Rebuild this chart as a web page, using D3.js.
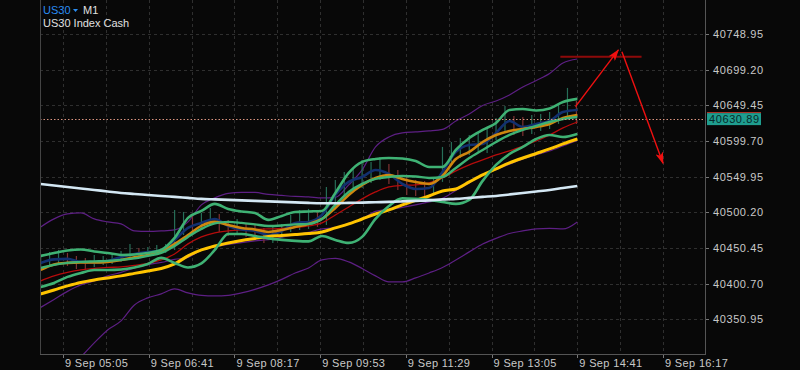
<!DOCTYPE html>
<html>
<head>
<meta charset="utf-8">
<script src="https://cdn.jsdelivr.net/npm/d3@7"></script>
<style>
  html, body { margin: 0; padding: 0; background: #080808; }
  svg { display: block; }
  text { font-family: "Liberation Sans", Arial, sans-serif; }
</style>
</head>
<body>
<svg id="chart" width="800" height="370"></svg>
<script>
// --- data ---
var symbol = "US30", period = "M1", description = "US30 Index Cash";

var priceTicks = [40350.95, 40400.70, 40450.45, 40500.20, 40549.95, 40599.70, 40649.45, 40699.20, 40748.95];
var timeLabels = ["05:05", "06:41", "08:17", "09:53", "11:29", "13:05", "14:41", "16:17"];
var gridTimes = ["05:05", "05:53", "06:41", "07:29", "08:17", "09:05", "09:53", "10:41", "11:29",
  "12:17", "13:05", "13:53", "14:41", "15:29", "16:17"];
var lastPrice = 40630.89;

// indicator samples, every 15 minutes
var times = ["04:40", "04:55", "05:10", "05:25", "05:40", "05:55", "06:10", "06:25", "06:40", "06:55",
  "07:10", "07:25", "07:40", "07:55", "08:10", "08:25", "08:40", "08:55", "09:10", "09:25",
  "09:40", "09:55", "10:10", "10:25", "10:40", "10:55", "11:10", "11:25", "11:40", "11:55",
  "12:10", "12:25", "12:40", "12:55", "13:10", "13:25", "13:40", "13:55", "14:10", "14:25", "14:41"];

var maSlow = [40539.8, 40537.7, 40535.6, 40533.5, 40531.4, 40529.3, 40527.2, 40525.8, 40524.4, 40523.0,
  40521.7, 40520.3, 40518.9, 40518.2, 40517.5, 40516.8, 40516.1, 40515.4, 40514.7, 40514.0,
  40513.3, 40512.9, 40512.9, 40513.3, 40513.7, 40514.3, 40514.7, 40515.4, 40516.1, 40516.8,
  40518.2, 40518.9, 40520.3, 40521.7, 40523.0, 40525.1, 40527.2, 40529.3, 40531.4, 40534.2, 40537.0];

var maLong = [40386.4, 40391.9, 40397.5, 40402.4, 40405.9, 40408.7, 40411.5, 40415.0, 40418.4, 40421.9,
  40428.2, 40439.4, 40447.7, 40453.3, 40457.5, 40461.0, 40463.8, 40466.5, 40467.9, 40469.3,
  40470.7, 40472.8, 40478.4, 40484.0, 40490.9, 40497.9, 40503.5, 40510.5, 40516.8, 40523.0,
  40530.0, 40532.8, 40542.6, 40552.3, 40560.7, 40569.1, 40576.0, 40582.3, 40588.6, 40595.6, 40602.5];

var maRed = [40404.5, 40411.5, 40416.3, 40419.8, 40421.9, 40423.3, 40424.0, 40426.1, 40428.9, 40433.8,
  40442.1, 40456.1, 40465.9, 40471.4, 40474.2, 40475.6, 40476.3, 40477.0, 40477.7, 40479.1,
  40481.2, 40485.4, 40496.5, 40507.7, 40518.9, 40528.6, 40535.6, 40537.7, 40538.4, 40541.2,
  40548.1, 40557.9, 40566.3, 40573.2, 40580.2, 40585.8, 40592.7, 40599.7, 40608.1, 40617.9, 40626.2];

var maOrange = [40419.8, 40427.5, 40429.6, 40430.3, 40430.3, 40431.0, 40433.8, 40437.3, 40440.7, 40444.9,
  40456.1, 40468.6, 40481.2, 40486.8, 40482.6, 40478.4, 40476.3, 40472.8, 40475.6, 40479.8,
  40484.0, 40490.9, 40506.3, 40524.4, 40538.4, 40548.1, 40552.3, 40546.8, 40542.6, 40539.8,
  40550.9, 40574.6, 40584.4, 40598.3, 40608.1, 40613.7, 40616.5, 40619.3, 40623.5, 40631.8, 40636.0];

var maFast = [40429.6, 40434.5, 40435.2, 40431.0, 40430.3, 40432.4, 40438.0, 40442.1, 40444.9, 40447.0,
  40461.7, 40478.4, 40485.4, 40490.9, 40481.2, 40476.3, 40474.2, 40468.6, 40474.2, 40485.4,
  40486.8, 40496.5, 40524.4, 40542.6, 40549.5, 40559.3, 40553.7, 40539.8, 40532.8, 40534.2,
  40556.5, 40584.4, 40594.2, 40595.6, 40610.9, 40627.6, 40619.3, 40623.5, 40627.6, 40640.2, 40643.0];

var bandUpper = [40439.4, 40443.5, 40447.0, 40448.4, 40445.6, 40443.5, 40440.7, 40441.4, 40443.5, 40447.7,
  40464.5, 40492.4, 40502.1, 40511.9, 40504.9, 40501.4, 40499.3, 40489.6, 40495.2, 40500.7,
  40501.4, 40502.1, 40527.2, 40555.1, 40570.5, 40574.6, 40576.0, 40575.3, 40571.8, 40563.5,
  40563.5, 40587.2, 40603.9, 40615.1, 40624.9, 40643.0, 40644.4, 40642.3, 40645.1, 40654.1, 40658.4];

var bandMid = [40422.6, 40426.8, 40429.6, 40431.0, 40431.7, 40432.4, 40433.8, 40435.9, 40439.4, 40443.5,
  40453.3, 40465.9, 40477.0, 40484.7, 40486.8, 40485.4, 40483.3, 40481.2, 40481.9, 40483.3,
  40484.0, 40490.9, 40510.5, 40528.6, 40539.8, 40546.8, 40549.5, 40550.9, 40550.2, 40548.1,
  40549.5, 40562.1, 40576.0, 40587.2, 40598.3, 40608.1, 40615.1, 40620.7, 40626.2, 40630.4, 40633.2];

var bandLower = [40396.1, 40401.7, 40410.1, 40415.6, 40419.8, 40419.8, 40420.5, 40423.3, 40428.2, 40436.6,
  40429.6, 40423.3, 40428.9, 40447.7, 40470.0, 40470.0, 40467.2, 40463.8, 40461.7, 40460.3,
  40459.6, 40467.2, 40461.7, 40457.5, 40465.9, 40491.0, 40509.1, 40519.6, 40518.9, 40517.5,
  40514.7, 40511.9, 40517.5, 40544.0, 40566.3, 40581.6, 40591.4, 40602.5, 40608.1, 40605.3, 40609.5];

var wideUpper = [40479.8, 40491.0, 40497.9, 40499.3, 40491.0, 40486.8, 40484.0, 40474.2, 40473.5, 40474.2,
  40475.6, 40486.8, 40510.5, 40520.3, 40526.5, 40527.9, 40527.9, 40525.1, 40523.7, 40522.4,
  40521.7, 40520.3, 40521.0, 40538.4, 40559.3, 40591.4, 40605.3, 40610.9, 40612.3, 40613.7,
  40615.8, 40627.6, 40637.4, 40649.3, 40655.5, 40663.9, 40675.1, 40684.1, 40693.9, 40708.5, 40714.1];

var wideMid = [40367.6, 40378.7, 40389.9, 40398.9, 40404.5, 40411.5, 40416.4, 40422.6, 40427.2, 40430.3,
  40434.5, 40437.3, 40447.4, 40452.0, 40455.4, 40457.9, 40460.3, 40462.0, 40465.2, 40469.0,
  40472.2, 40477.1, 40478.5, 40484.7, 40490.6, 40501.5, 40504.2, 40507.0, 40510.5, 40514.7,
  40519.6, 40530.7, 40541.2, 40552.7, 40559.7, 40567.3, 40574.7, 40580.6, 40585.8, 40592.8, 40600.5];

var wideLower = [40255.3, 40266.4, 40281.8, 40298.5, 40318.0, 40336.1, 40348.7, 40371.0, 40380.8, 40386.4,
  40393.4, 40387.8, 40384.3, 40383.6, 40384.3, 40387.8, 40392.7, 40398.9, 40406.6, 40415.6,
  40422.6, 40433.8, 40435.9, 40431.0, 40421.9, 40411.5, 40403.1, 40403.1, 40408.7, 40415.6,
  40423.3, 40433.8, 40445.0, 40456.1, 40463.8, 40470.7, 40474.2, 40477.0, 40477.7, 40477.0, 40486.8];

// price bars, every 10 minutes (high / low)
var barTimes = ["04:40", "04:50", "05:00", "05:10", "05:20", "05:30", "05:40", "05:50", "06:00", "06:10",
  "06:20", "06:30", "06:40", "06:50", "07:00", "07:10", "07:20", "07:30", "07:40", "07:50",
  "08:00", "08:10", "08:20", "08:30", "08:40", "08:50", "09:00", "09:10", "09:20", "09:30",
  "09:40", "09:50", "10:00", "10:10", "10:20", "10:30", "10:40", "10:50", "11:00", "11:10",
  "11:20", "11:30", "11:40", "11:50", "12:00", "12:10", "12:20", "12:30", "12:40", "12:50",
  "13:00", "13:10", "13:20", "13:30", "13:40", "13:50", "14:00", "14:10", "14:20", "14:30", "14:40"];

var barHigh = [40440.7, 40444.9, 40447.7, 40443.5, 40439.4, 40436.6, 40440.7, 40439.4, 40442.1, 40446.3,
  40456.1, 40450.5, 40451.9, 40454.7, 40456.1, 40503.5, 40500.7, 40496.5, 40499.3, 40506.3,
  40497.9, 40489.6, 40491.0, 40484.0, 40482.6, 40478.4, 40479.8, 40484.0, 40496.5, 40503.5,
  40504.9, 40500.7, 40535.6, 40545.4, 40556.5, 40562.1, 40573.2, 40570.5, 40577.4, 40567.7,
  40559.3, 40550.9, 40545.4, 40544.0, 40549.5, 40591.4, 40598.3, 40603.9, 40608.1, 40612.3,
  40617.9, 40631.8, 40648.6, 40634.6, 40633.2, 40636.0, 40637.4, 40640.2, 40651.4, 40673.7, 40655.5];

var barLow = [40422.6, 40426.8, 40428.2, 40425.4, 40421.2, 40419.8, 40424.0, 40426.8, 40428.2, 40431.0,
  40435.2, 40436.6, 40438.0, 40440.7, 40443.5, 40447.7, 40468.6, 40471.4, 40478.4, 40481.2,
  40472.8, 40467.2, 40468.6, 40465.9, 40461.7, 40457.5, 40457.5, 40464.5, 40472.8, 40475.6,
  40477.0, 40479.8, 40482.6, 40510.5, 40524.4, 40528.6, 40534.2, 40541.2, 40545.4, 40539.8,
  40531.4, 40524.4, 40523.0, 40523.0, 40525.8, 40542.6, 40566.3, 40576.0, 40580.2, 40584.4,
  40583.0, 40601.1, 40612.3, 40608.1, 40606.7, 40609.5, 40613.7, 40616.5, 40623.5, 40631.8, 40623.5];

// drawn objects
var levelLine = {from: "14:22", to: "15:53", price: 40717.3};
var arrows = [
  {t1: "14:39", p1: 40647.6, t2: "15:27", p2: 40726.7},
  {t1: "15:31", p1: 40724.3, t2: "16:17", p2: 40568.6}
];

// --- layout ---
var left = 40, right = 705, bottom = 354;

function tm(s) {
  var a = s.split(":");
  return new Date(2024, 8, 9, +a[0], +a[1], a[2] ? +a[2] : 0);
}

var x = d3.scaleTime().domain([tm("04:39:14"), tm("17:04:02")]).range([left, right]);
var y = d3.scaleLinear().domain([40302.54, 40796.38]).range([bottom, 0]);

var svg = d3.select("#chart");

svg.append("rect").attr("width", 800).attr("height", 370).attr("fill", "#080808");

svg.append("defs").append("clipPath").attr("id", "plot")
  .append("rect").attr("x", left).attr("y", 0).attr("width", right - left).attr("height", bottom);

// grid
var grid = svg.append("g").attr("stroke", "#2f2f2f").attr("stroke-dasharray", "3,3").attr("stroke-width", 1);
grid.selectAll("line.h").data(priceTicks).enter().append("line")
  .attr("x1", left).attr("x2", right)
  .attr("y1", function(d) { return Math.round(y(d)) + 0.5; })
  .attr("y2", function(d) { return Math.round(y(d)) + 0.5; });
grid.selectAll("line.v").data(gridTimes).enter().append("line")
  .attr("y1", 0).attr("y2", bottom)
  .attr("x1", function(d) { return Math.round(x(tm(d))) + 0.5; })
  .attr("x2", function(d) { return Math.round(x(tm(d))) + 0.5; });

var plot = svg.append("g").attr("clip-path", "url(#plot)");

function series(values, color, width) {
  var line = d3.line()
    .x(function(d, i) { return x(tm(times[i])); })
    .y(function(d) { return y(d); })
    .curve(d3.curveMonotoneX);
  plot.append("path").datum(values)
    .attr("fill", "none")
    .attr("stroke", color)
    .attr("stroke-width", width)
    .attr("stroke-linejoin", "round")
    .attr("d", line);
}

// wide (purple) envelope
series(wideUpper, "#5d1f84", 1.2);
series(wideMid, "#5d1f84", 1.2);
series(wideLower, "#5d1f84", 1.2);

// price bars
plot.selectAll("line.bar").data(barTimes).enter().append("line")
  .attr("x1", function(d) { return x(tm(d)); })
  .attr("x2", function(d) { return x(tm(d)); })
  .attr("y1", function(d, i) { return y(barHigh[i]); })
  .attr("y2", function(d, i) { return y(barLow[i]); })
  .attr("stroke-width", 1.2)
  .attr("stroke", function(d, i) {
    var m = barHigh[i] + barLow[i], pm = i ? barHigh[i - 1] + barLow[i - 1] : m;
    return m >= pm ? "#276e58" : "#7e3232";
  });

series(maRed, "#b50c0c", 1.3);
series(maFast, "#12306f", 2.6);
series(maOrange, "#cf870f", 2.6);
series(maLong, "#ffc400", 3);
series(bandMid, "#3fb274", 2.4);
series(bandUpper, "#3fb274", 2.6);
series(bandLower, "#3fb274", 2.6);
series(maSlow, "#d4e8f4", 2.6);

// last price line
svg.append("line")
  .attr("x1", left).attr("x2", right)
  .attr("y1", Math.round(y(lastPrice)) + 0.5).attr("y2", Math.round(y(lastPrice)) + 0.5)
  .attr("stroke", "#d9937f").attr("stroke-width", 1).attr("stroke-dasharray", "1.5,2");

// drawn level and arrows
svg.append("line")
  .attr("x1", x(tm(levelLine.from))).attr("x2", x(tm(levelLine.to)))
  .attr("y1", y(levelLine.price)).attr("y2", y(levelLine.price))
  .attr("stroke", "#8e0a0a").attr("stroke-width", 2);

svg.select("defs").append("marker")
  .attr("id", "head").attr("viewBox", "0 0 12 8")
  .attr("refX", 11).attr("refY", 4)
  .attr("markerUnits", "userSpaceOnUse")
  .attr("markerWidth", 12).attr("markerHeight", 8)
  .attr("orient", "auto")
  .append("path").attr("d", "M0,0L12,4L0,8L3,4Z").attr("fill", "#f01010");

svg.selectAll("line.arrow").data(arrows).enter().append("line")
  .attr("x1", function(d) { return x(tm(d.t1)); })
  .attr("y1", function(d) { return y(d.p1); })
  .attr("x2", function(d) { return x(tm(d.t2)); })
  .attr("y2", function(d) { return y(d.p2); })
  .attr("stroke", "#f01010").attr("stroke-width", 1.4)
  .attr("marker-end", "url(#head)");

// axes frame
svg.append("line").attr("x1", left + 0.5).attr("x2", left + 0.5).attr("y1", 0).attr("y2", bottom)
  .attr("stroke", "#444");
svg.append("line").attr("x1", right + 0.5).attr("x2", right + 0.5).attr("y1", 0).attr("y2", bottom + 0.5)
  .attr("stroke", "#555");
svg.append("line").attr("x1", left).attr("x2", right + 1).attr("y1", bottom + 0.5).attr("y2", bottom + 0.5)
  .attr("stroke", "#555");

// price axis
var yAxis = svg.append("g");
yAxis.selectAll("line").data(priceTicks).enter().append("line")
  .attr("x1", right + 1).attr("x2", right + 4)
  .attr("y1", function(d) { return Math.round(y(d)) + 0.5; })
  .attr("y2", function(d) { return Math.round(y(d)) + 0.5; })
  .attr("stroke", "#777");
yAxis.selectAll("text").data(priceTicks).enter().append("text")
  .attr("x", right + 8)
  .attr("y", function(d) { return y(d); })
  .attr("dy", "0.36em")
  .attr("fill", "#c8c8c8").attr("font-size", 11).attr("letter-spacing", 0.6)
  .text(function(d) { return d.toFixed(2); });

// last price tag
var ly = y(lastPrice);
svg.append("line").attr("x1", right + 2).attr("x2", 761).attr("y1", ly - 6).attr("y2", ly - 6)
  .attr("stroke", "#c0392b").attr("stroke-width", 1);
svg.append("rect").attr("x", right + 2).attr("y", ly - 5.5).attr("width", 54).attr("height", 12)
  .attr("fill", "#1f9e8f");
svg.append("text").attr("x", right + 4).attr("y", ly).attr("dy", "0.36em")
  .attr("fill", "#062a2a").attr("font-size", 11).attr("letter-spacing", 0.6)
  .text(lastPrice.toFixed(2));

// time axis
var xAxis = svg.append("g");
xAxis.selectAll("line").data(timeLabels).enter().append("line")
  .attr("x1", function(d) { return Math.round(x(tm(d))) + 0.5; })
  .attr("x2", function(d) { return Math.round(x(tm(d))) + 0.5; })
  .attr("y1", bottom + 1).attr("y2", bottom + 4)
  .attr("stroke", "#777");
xAxis.selectAll("text").data(timeLabels).enter().append("text")
  .attr("x", function(d) { return x(tm(d)) + 2; })
  .attr("y", 367)
  .attr("fill", "#c8c8c8").attr("font-size", 11).attr("letter-spacing", 0.35)
  .text(function(d) { return "9 Sep " + d; });

// header
var head = svg.append("g").attr("font-size", 11);
head.append("text").attr("x", 43).attr("y", 14).attr("fill", "#2a8cf2").text(symbol);
head.append("path").attr("d", "M73,9L78,9L75.5,12Z").attr("fill", "#2a8cf2");
head.append("text").attr("x", 83).attr("y", 14).attr("fill", "#e0e0e0").text(period);
head.append("text").attr("x", 43).attr("y", 27).attr("fill", "#e0e0e0").text(description);
</script>
</body>
</html>
